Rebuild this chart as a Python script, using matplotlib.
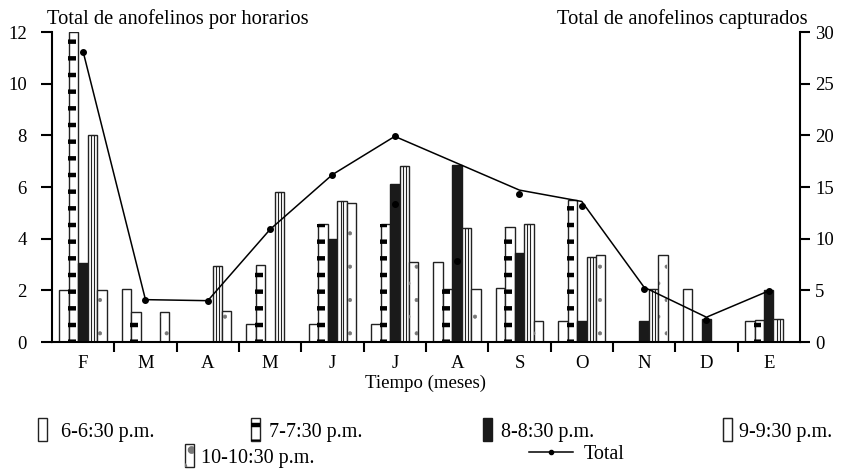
import matplotlib.pyplot as plt
import numpy as np

plt.rcParams['font.family'] = ['Liberation Serif', 'DejaVu Serif']
plt.rcParams['hatch.linewidth'] = 3.2

# meses (F = febrero ... E = enero)
meses = ['F', 'M', 'A', 'M', 'J', 'J', 'A', 'S', 'O', 'N', 'D', 'E']

# anofelinos por horario (eje izquierdo)
h6 = [2.0, 2.07, 0, 0.7, 0.7, 0.7, 3.1, 2.1, 0.8, 0, 2.05, 0.8]
h7 = [12, 1.15, 0, 3.0, 4.55, 4.55, 2.05, 4.45, 5.5, 0, 0, 0.85]
h8 = [3.05, 0, 0, 0, 4.0, 6.1, 6.85, 3.45, 0.8, 0.8, 0.9, 2.0]
h9 = [8.0, 0, 2.95, 5.8, 5.45, 6.8, 4.4, 4.55, 3.3, 2.05, 0, 0.9]
h10 = [2.0, 1.15, 1.2, 0, 5.4, 3.1, 2.05, 0.8, 3.35, 3.35, 0, 0]

# total capturado (eje derecho): linea y puntos
total = [28.1, 4.1, 4.0, 10.9, 16.2, 19.9, 17.3, 14.7, 13.6, 5.3, 2.4, 4.95]
puntos_mes = [0, 1, 2, 3, 4, 5, 5, 6, 7, 8, 9, 10, 11]
puntos_valor = [28.1, 4.1, 4.0, 10.9, 16.2, 19.9, 13.4, 7.8, 14.3, 13.2, 5.1, 2.1, 4.9]

etiquetas = ['6-6:30 p.m.', '7-7:30 p.m.', '8-8:30 p.m.', '9-9:30 p.m.', '10-10:30 p.m.']

fig = plt.figure(figsize=(8.49, 4.72), dpi=100)
ax = fig.add_axes([0.0612, 0.2754, 0.881, 0.6568])

x = np.arange(len(meses))
w = 0.152
off = (np.arange(5) - 2) * w
borde = '#222222'
fs = 13.5
fs_ley = 14.5

# 6-6:30: blanco
b6 = ax.bar(x + off[0], h6, w, color='white', edgecolor=borde, lw=1)

# 7-7:30: blanco con rayas gruesas a la izquierda
b7 = ax.bar(x + off[1], h7, w, color='white', edgecolor=borde, lw=1)
r7 = ax.bar(x + off[1] - w * 0.6, h7, w * 0.8, align='edge', color='none',
            edgecolor='black', lw=0, hatch='-')

# 8-8:30: negro
b8 = ax.bar(x + off[2], h8, w, color='#1a1a1a', edgecolor='#1a1a1a', lw=1)

# 9-9:30: doble linea vertical
b9 = ax.bar(x + off[3], h9, w, color='white', edgecolor=borde, lw=1)
i9 = ax.bar(x + off[3], h9, w * 0.3, color='none', edgecolor=borde, lw=0.8)

# 10-10:30: puntos dispersos
b10 = ax.bar(x + off[4], h10, w, color='white', edgecolor=borde, lw=1)
d10 = ax.bar(x + off[4], h10, w * 0.9, color='none', edgecolor='#777777', lw=0, hatch='.')
for p in d10.patches:
    if hasattr(p, 'set_hatch_linewidth'):
        p.set_hatch_linewidth(0.5)

ax.set_xlim(-0.5, 11.5)
ax.set_ylim(0, 12)
ax.set_yticks(range(0, 13, 2))
ax.set_xticks(x, meses)
ax.set_xticks(x[:-1] + 0.5, minor=True)
ax.tick_params(axis='x', which='major', length=0, pad=9, labelsize=fs)
ax.tick_params(axis='x', which='minor', length=7, width=1.5, direction='out')
ax.tick_params(axis='y', length=8, width=1.5, direction='out', pad=10, labelsize=fs)
ax.spines['top'].set_visible(False)
ax.spines['right'].set_visible(False)
for s in ['left', 'bottom']:
    ax.spines[s].set_linewidth(1.5)
ax.set_xlabel('Tiempo (meses)', fontsize=fs, labelpad=2)

ax2 = ax.twinx()
ax2.set_ylim(0, 30)
ax2.set_yticks(range(0, 31, 5))
ax2.tick_params(axis='y', length=7, width=1.5, direction='out', pad=4, labelsize=fs)
ax2.spines['top'].set_visible(False)
ax2.spines['left'].set_visible(False)
ax2.spines['bottom'].set_visible(False)
ax2.spines['right'].set_linewidth(1.5)
ax2.plot(x, total, color='black', lw=1.1)
ax2.plot(puntos_mes, puntos_valor, 'o', color='black', ms=4)
tot_h, = ax2.plot([], [], color='black', lw=1.1, marker='o', ms=3, markevery=[1])

fig.text(47 / 849, 1 - 19 / 472, 'Total de anofelinos por horarios', fontsize=14.8,
         ha='left', va='center')
fig.text(808 / 849, 1 - 19 / 472, 'Total de anofelinos capturados', fontsize=14.8,
         ha='right', va='center')

# leyenda: cada entrada en su sitio
entradas = [
    (b6.patches[0], etiquetas[0], 38 / 849, 430, 0.7),
    ((b7.patches[0], r7.patches[0]), etiquetas[1], 251 / 849, 430, 0.45),
    (b8.patches[0], etiquetas[2], 483 / 849, 430, 0.43),
    ((b9.patches[0], i9.patches[0]), etiquetas[3], 723 / 849, 430, 0.36),
    ((b10.patches[0], d10.patches[0]), etiquetas[4], 185 / 849, 456, 0.33),
]
for h, lab, xf, yp, pad in entradas:
    fig.legend([h], [lab], loc='center left', bbox_to_anchor=(xf, 1 - yp / 472),
               frameon=False, borderpad=0, borderaxespad=0, handlelength=0.45,
               handleheight=1.35, handletextpad=pad, fontsize=fs_ley)
fig.legend([tot_h], ['Total'], loc='center left', bbox_to_anchor=(529 / 849, 1 - 454 / 472),
           frameon=False, borderpad=0, borderaxespad=0, handlelength=2.2,
           handletextpad=0.5, fontsize=fs_ley)

plt.savefig('out.png', dpi=100)
